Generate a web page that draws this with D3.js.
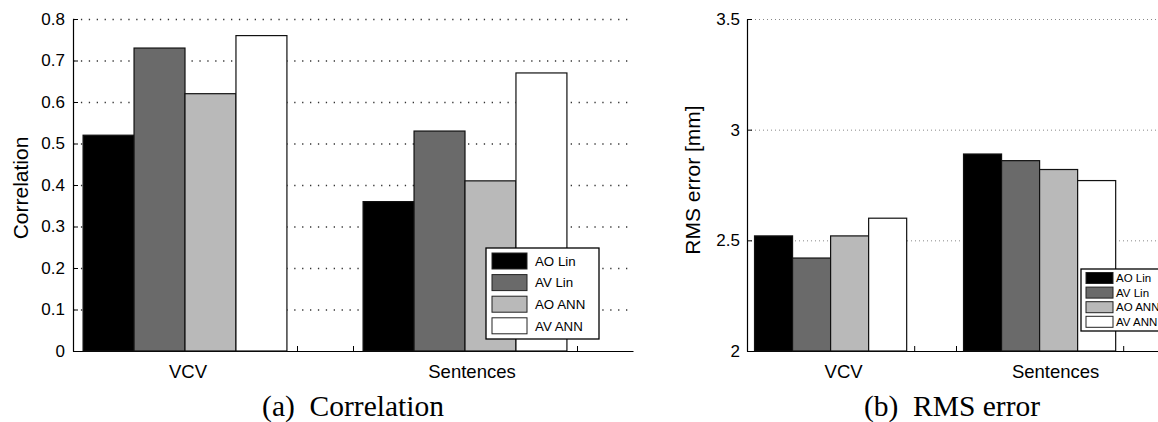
<!DOCTYPE html>
<html>
<head>
<meta charset="utf-8">
<script src="https://cdn.jsdelivr.net/npm/d3@7/dist/d3.min.js"></script>
<style>
    body { margin: 0; background: #fff; overflow: hidden; }
    text { font-family: 'Liberation Sans', Arial, sans-serif; fill: #000; }
    .caption { font-family: 'Liberation Serif', 'DejaVu Serif', serif; white-space: pre; }
</style>
</head>
<body>
<svg id="chart" width="1158" height="422"></svg>
<script>
    // data
    const categories = ["VCV", "Sentences"];
    const series = ["AO Lin", "AV Lin", "AO ANN", "AV ANN"];
    const colors = ["#000000", "#6a6a6a", "#b9b9b9", "#ffffff"];
    const corrValues = [
        [0.52, 0.73, 0.62, 0.76],
        [0.36, 0.53, 0.41, 0.67]
    ];
    const rmsValues = [
        [2.52, 2.42, 2.52, 2.60],
        [2.89, 2.86, 2.82, 2.77]
    ];
    const corrTicks = [0, 0.1, 0.2, 0.3, 0.4, 0.5, 0.6, 0.7, 0.8];
    const rmsTicks = [2, 2.5, 3, 3.5];
    const xMinorTicks = [0.8, 1.0, 1.2, 1.4, 1.6, 1.8, 2.0, 2.2, 2.4];

    const svg = d3.select("#chart");

    function drawPanel(opt) {
        const g = svg.append("g");
        const x = d3.scaleLinear().domain([0.6, 2.6]).range([opt.left, opt.right]);
        const y = d3.scaleLinear().domain(opt.domain).range([351, 19]);
        const inner = d3.scaleBand().domain(series).range([-0.364, 0.364]);

        // dotted grid
        const grid = g.append("g")
            .attr("transform", `translate(${opt.left},0)`)
            .call(d3.axisLeft(y).tickValues(opt.ticks.slice(1)).tickSize(-(opt.right - opt.left)).tickFormat(""));
        grid.select(".domain").remove();
        grid.selectAll("line")
            .attr("stroke", opt.gridColor)
            .attr("stroke-width", opt.gridWidth)
            .attr("stroke-dasharray", opt.gridDash);

        // x axis with small inward ticks (drawn under the bars)
        const xa = g.append("g")
            .attr("transform", "translate(0,351)")
            .call(d3.axisBottom(x).tickValues(xMinorTicks).tickSize(-5).tickSizeOuter(0).tickFormat(""));
        xa.select(".domain").attr("stroke", "#000").attr("stroke-width", 1.2);
        xa.selectAll("line").attr("stroke", "#000");

        // bars
        categories.forEach((c, i) => {
            g.append("g").selectAll("rect")
                .data(opt.values[i])
                .enter().append("rect")
                .attr("x", (d, j) => x(i + 1 + inner(series[j])))
                .attr("width", (d, j) => x(i + 1 + inner(series[j]) + inner.bandwidth()) - x(i + 1 + inner(series[j])))
                .attr("y", d => y(d))
                .attr("height", d => y(opt.domain[0]) - y(d))
                .attr("fill", (d, j) => colors[j])
                .attr("stroke", "#111")
                .attr("stroke-width", 1.2);

            g.append("text")
                .attr("x", x(i + 1) + opt.labelShift[i])
                .attr("y", 378)
                .attr("text-anchor", "middle")
                .style("font-size", "18.5px")
                .text(c);
        });

        // y axis
        const ya = g.append("g")
            .attr("transform", `translate(${opt.left},0)`)
            .call(d3.axisLeft(y).tickValues(opt.ticks).tickSize(-5).tickSizeOuter(0).tickPadding(opt.tickPad)
                .tickFormat(d3.format(opt.fmt)));
        ya.select(".domain").attr("stroke", "#000").attr("stroke-width", 1.2);
        ya.selectAll("line").attr("stroke", "#000");
        ya.selectAll("text")
            .style("font-family", "'Liberation Sans', Arial, sans-serif")
            .style("font-size", "17px")
            .attr("fill", "#000");

        // y title
        g.append("text")
            .attr("transform", `translate(${opt.titleX},${opt.titleY}) rotate(-90)`)
            .attr("text-anchor", "middle")
            .style("font-size", "21px")
            .text(opt.title);

        // legend
        const L = opt.legend;
        const lg = g.append("g").attr("transform", `translate(${L.x},${L.y})`);
        lg.append("rect")
            .attr("width", L.w).attr("height", L.h)
            .attr("fill", "#fff").attr("stroke", "#000").attr("stroke-width", 1.3);
        series.forEach((s, j) => {
            lg.append("rect")
                .attr("x", L.sx).attr("y", L.sy + j * L.pitch)
                .attr("width", L.sw).attr("height", L.sh)
                .attr("fill", colors[j]).attr("stroke", "#222").attr("stroke-width", 1);
            lg.append("text")
                .attr("x", L.tx).attr("y", L.sy + j * L.pitch + L.sh / 2)
                .attr("dy", "0.36em")
                .style("font-size", L.font + "px")
                .text(s);
        });

        // caption
        g.append("text")
            .attr("class", "caption")
            .attr("x", opt.capX).attr("y", 416)
            .attr("text-anchor", "middle")
            .style("font-size", "29.5px")
            .text(opt.caption);
    }

    drawPanel({
        left: 73, right: 633, domain: [0, 0.8], ticks: corrTicks, values: corrValues,
        fmt: "", tickPad: 8, gridColor: "#333", gridWidth: 1.3, gridDash: "1.3,6.6",
        labelShift: [3, 7],
        title: "Correlation", titleX: 28, titleY: 188,
        legend: { x: 486, y: 248, w: 113, h: 91, sx: 6, sy: 5, sw: 35, sh: 16, pitch: 21.6, tx: 49, font: 13.3 },
        caption: "(a)  Correlation", capX: 353
    });

    drawPanel({
        left: 747, right: 1165, domain: [2, 3.5], ticks: rmsTicks, values: rmsValues,
        fmt: "", tickPad: 7, gridColor: "#888", gridWidth: 1, gridDash: "1,3",
        labelShift: [13, 16],
        title: "RMS error [mm]", titleX: 700, titleY: 180,
        legend: { x: 1081, y: 269, w: 90, h: 62, sx: 5, sy: 3.5, sw: 27, sh: 11, pitch: 14.6, tx: 35, font: 11.5 },
        caption: "(b)  RMS error", capX: 952
    });
</script>
</body>
</html>
